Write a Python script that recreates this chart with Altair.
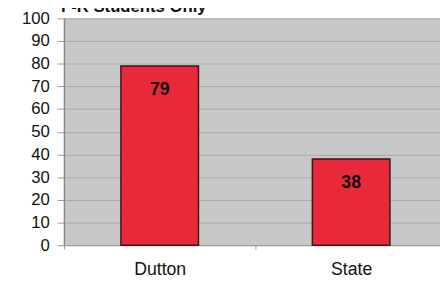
import altair as alt
import pandas as pd

categories = ["Dutton", "State"]
values = [79, 38]
labels = ["79", "38"]
title_text = "F-R Students Only"
y_ticks = [0, 10, 20, 30, 40, 50, 60, 70, 80, 90, 100]

df = pd.DataFrame({"group": categories, "value": values, "label": labels})

FONT = "Liberation Sans"

x = alt.X("group:N", sort=categories,
          scale=alt.Scale(range=[0, 390], paddingInner=0, paddingOuter=0),
          axis=alt.Axis(title=None, labelAngle=0, labelFontSize=18, labelFont=FONT,
                        labelColor="#111", labelPadding=12, tickBand="extent",
                        tickSize=4, tickColor="#999", domainColor="#999",
                        domainWidth=1))
y = alt.Y("value:Q", scale=alt.Scale(domain=[0, 100], nice=False),
          axis=alt.Axis(title=None, values=y_ticks, labelFontSize=17,
                        labelFont=FONT, labelColor="#111", labelPadding=8,
                        labelOverlap=False,
                        tickSize=7, tickColor="#999", gridColor="#a9a9a9",
                        gridWidth=1, domainColor="#888", domainWidth=1.5))

base = alt.Chart(df).encode(x=x, y=y)

bars = base.mark_bar(size=79, color="#e8293a", stroke="#3a1616", strokeWidth=1.5)

text = base.mark_text(fontSize=18, fontWeight="bold", font=FONT,
                      color="#111", baseline="middle", dy=25).encode(text="label:N")

title = alt.Chart(pd.DataFrame({"t": [title_text]})).mark_text(
    fontSize=17, fontWeight="bold", font=FONT, color="#111", align="left",
    baseline="alphabetic").encode(x=alt.value(-3), y=alt.value(-7), text="t:N")

chart = alt.layer(bars, text, title).properties(
    width=383, height=231,
    autosize=alt.AutoSizeParams(type="none"),
    padding={"left": 57, "top": 8, "right": 0, "bottom": 38},
    view=alt.ViewBackground(fill="#c8c8c8", strokeWidth=0),
).configure_view(fill="#c8c8c8", strokeWidth=0).configure(background="white")

chart.save("out.html", embed_options={"renderer": "svg", "actions": False})
